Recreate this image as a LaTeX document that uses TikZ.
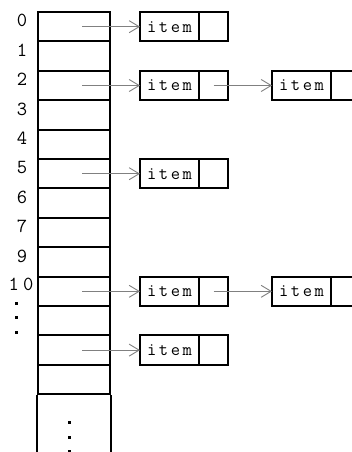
\documentclass[tikz,border=0pt]{standalone}
\usetikzlibrary{arrows.meta, positioning}

\newcommand{\itemword}{i\kern2.6pt t\kern2.6pt e\kern2.6pt m}

\begin{document}
\begin{tikzpicture}[
    x=1pt, y=-1pt,
    cell/.style={draw, line width=2pt, minimum width=72pt, minimum height=29.4pt, inner sep=0pt},
    keybox/.style={draw, line width=2pt, outer sep=0pt, minimum width=59pt, minimum height=29.4pt, inner sep=0pt,
                   font=\ttfamily\fontsize{18}{18}\selectfont},
    ptrbox/.style={draw, line width=2pt, outer sep=0pt, minimum width=29pt, minimum height=29.4pt, inner sep=0pt},
    idx/.style={inner sep=0pt, font=\ttfamily\fontsize{20}{20}\selectfont},
    sqdot/.style={fill=black, inner sep=0pt, minimum size=3pt},
    link/.style={black!50, line width=0.9pt, -{Straight Barb[length=10pt, width=12pt]}},
]
    \useasboundingbox (0,0) rectangle (352,452);

    % Bucket array
    \node[cell] (c0) at (74,26.7) {};
    \node[cell] (c1) at (74,56.1) {};
    \node[cell] (c2) at (74,85.5) {};
    \node[cell] (c3) at (74,114.9) {};
    \node[cell] (c4) at (74,144.3) {};
    \node[cell] (c5) at (74,173.7) {};
    \node[cell] (c6) at (74,203.1) {};
    \node[cell] (c7) at (74,232.5) {};
    \node[cell] (c8) at (74,261.9) {};
    \node[cell] (c9) at (74,291.3) {};
    \node[cell] (c10) at (74,320.7) {};
    \node[cell] (c11) at (74,350.1) {};
    \node[cell] (c12) at (74,379.5) {};

    % Open cell at the bottom
    \coordinate (bottom) at (0,470);
    \draw[line width=2pt] (c12.south west) -- (c12.south west |- bottom);
    \draw[line width=2pt] (c12.south east) -- (c12.south east |- bottom);
    \node[sqdot] (e1) at (69,422) {};
    \node[sqdot] (e2) at (69,437) {};
    \node[sqdot] (e3) at (69,451) {};

    % Indices
    \node[idx] (n0) at (22,20.5) {0};
    \node[idx] (n1) at (22,50) {1};
    \node[idx] (n2) at (22,79.5) {2};
    \node[idx] (n3) at (22,109) {3};
    \node[idx] (n4) at (22,138) {4};
    \node[idx] (n5) at (22,167.5) {5};
    \node[idx] (n6) at (22,197) {6};
    \node[idx] (n7) at (22,226.5) {7};
    \node[idx] (n9) at (22,256) {9};
    \node[idx] (n10) at (21,284) {1\kern4pt 0};
    \node[sqdot] (v1) at (16,303) {};
    \node[sqdot] (v2) at (16,317) {};
    \node[sqdot] (v3) at (16,332) {};

    % Chains
    \node[keybox] (k0) at (169.5,26.7) {\itemword};
    \node[ptrbox, right=0pt of k0] (p0) {};
    \node[keybox] (k2) at (169.5,85.5) {\itemword};
    \node[ptrbox, right=0pt of k2] (p2) {};
    \node[keybox] (k2b) at (301.5,85.5) {\itemword};
    \node[ptrbox, right=0pt of k2b] (p2b) {};
    \node[keybox] (k5) at (169.5,173.7) {\itemword};
    \node[ptrbox, right=0pt of k5] (p5) {};
    \node[keybox] (k9) at (169.5,291.3) {\itemword};
    \node[ptrbox, right=0pt of k9] (p9) {};
    \node[keybox] (k9b) at (301.5,291.3) {\itemword};
    \node[ptrbox, right=0pt of k9b] (p9b) {};
    \node[keybox] (k11) at (169.5,350.1) {\itemword};
    \node[ptrbox, right=0pt of k11] (p11) {};

    % Pointers
    \draw[link] ([xshift=8pt]c0.center) -- (k0.west);
    \draw[link] ([xshift=8pt]c2.center) -- (k2.west);
    \draw[link] (p2.center) -- (k2b.west);
    \draw[link] ([xshift=8pt]c5.center) -- (k5.west);
    \draw[link] ([xshift=8pt]c9.center) -- (k9.west);
    \draw[link] (p9.center) -- (k9b.west);
    \draw[link] ([xshift=8pt]c11.center) -- (k11.west);
\end{tikzpicture}
\end{document}
